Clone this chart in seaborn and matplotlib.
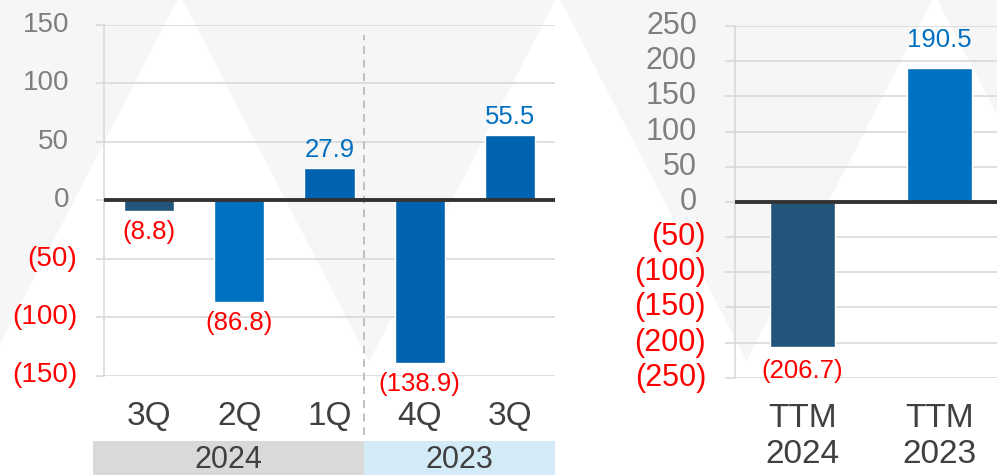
#!/usr/bin/env python3
"""Quarterly and TTM bar charts with parenthesised negatives."""

import matplotlib

matplotlib.use("Agg")
import matplotlib.pyplot as plt
import matplotlib.transforms as mtransforms
import numpy as np
import seaborn as sns
from matplotlib.patches import Polygon, Rectangle

# Data
quarter_labels = ["3Q", "2Q", "1Q", "4Q", "3Q"]
quarter_values = [-8.8, -86.8, 27.9, -138.9, 55.5]
quarter_colors = ["#23557A", "#0070C0", "#0063AF", "#0063AF", "#0063AF"]
year_groups = ["2024", "2023"]
year_spans = [(-0.62, 2.38), (2.38, 4.5)]
year_colors = ["#D9D9D9", "#D3EBF7"]

ttm_labels = ["TTM\n2024", "TTM\n2023"]
ttm_values = [-206.7, 190.5]
ttm_colors = ["#23557A", "#0070C0"]

left_ticks = [150, 100, 50, 0, -50, -100, -150]
right_ticks = [250, 200, 150, 100, 50, 0, -50, -100, -150, -200, -250]

POS = "#0070C0"
NEG = "#FF0000"
TICK_GREY = "#7F7F7F"
TEXT = "#404040"
GRID = "#D9D9D9"

sns.set_theme(style="white")
plt.rcParams["font.family"] = ["Liberation Sans", "DejaVu Sans"]

W, H = 997, 475
fig = plt.figure(figsize=(W / 100, H / 100), dpi=100)
fig.patch.set_facecolor("#F6F6F6")

# background triangles (pixel coordinates, origin top-left)
px = mtransforms.Affine2D().scale(1 / W, -1 / H).translate(0, 1) + fig.transFigure
for apex in (180, 558, 935):
    tri = Polygon([(apex, -5), (apex - 250, 480), (apex + 250, 480)], closed=True,
                  facecolor="white", edgecolor="none", transform=px, zorder=-10)
    fig.patches.append(tri)


def fmt(v):
    return f"{v:,.0f}" if v >= 0 else f"({-v:,.0f})"


def style_axis(ax, ticks, pos_off, neg_off, size, tick_len):
    ax.set_facecolor("none")
    ax.set_yticks(ticks)
    ax.set_yticklabels([])
    ax.tick_params(axis="y", length=tick_len, width=1.2, color=GRID, left=True)
    ax.grid(axis="y", color=GRID, lw=1.2, zorder=0)
    ax.set_axisbelow(True)
    for s in ("top", "right", "bottom"):
        ax.spines[s].set_visible(False)
    ax.spines["left"].set_color(GRID)
    ax.spines["left"].set_linewidth(1.2)
    tr = mtransforms.blended_transform_factory(ax.transAxes, ax.transData)
    for t in ticks:
        off = pos_off if t >= 0 else neg_off
        ax.text(off, t, fmt(t), transform=tr, ha="right", va="center",
                fontsize=size, color=TICK_GREY if t >= 0 else NEG)
    ax.axhline(0, color="#333333", lw=2.8, zorder=3)
    ax.set_xlabel("")
    ax.set_ylabel("")


def add_labels(ax, values, up, down):
    for i, v in enumerate(values):
        label = f"{v:.1f}" if v >= 0 else f"({-v:.1f})"
        ax.annotate(label, (i, v), xytext=(0, up if v >= 0 else -down),
                    textcoords="offset points", ha="center",
                    va="bottom" if v >= 0 else "top", fontsize=18.5,
                    color=POS if v >= 0 else NEG, zorder=4)


# Left chart: quarters
ax1 = fig.add_axes([104 / W, 1 - 375.5 / H, 451 / W, 350.5 / H])
sns.barplot(x=np.arange(len(quarter_values)), y=quarter_values,
            hue=np.arange(len(quarter_values)), palette=quarter_colors,
            width=0.555, saturation=1, legend=False, ax=ax1, zorder=2)
ax1.set_xlim(-0.5, 4.5)
ax1.set_ylim(-150, 150)
style_axis(ax1, left_ticks, -35 / 451, -27 / 451, 20, 6)
ax1.set_xticks(range(len(quarter_labels)))
ax1.set_xticklabels(quarter_labels, fontsize=24, color=TEXT)
ax1.tick_params(axis="x", length=0, pad=18.5)
add_labels(ax1, quarter_values, 4.3, 6.5)
ax1.axvline(2.38, ymin=-0.17, ymax=0.971, color="#BFBFBF", lw=1.4,
            ls=(0, (4, 3)), clip_on=False, zorder=1)

band_tr = mtransforms.blended_transform_factory(ax1.transData, fig.transFigure)
for name, (x0, x1), col in zip(year_groups, year_spans, year_colors):
    ax1.add_patch(Rectangle((x0, 0), x1 - x0, 34 / H, transform=band_tr,
                            facecolor=col, edgecolor="none", clip_on=False, zorder=1))
    ax1.text((x0 + x1) / 2, 7 / H, name, transform=band_tr, ha="center",
             va="baseline", fontsize=22, color=TEXT, clip_on=False)

# Right chart: TTM
ax2 = fig.add_axes([735 / W, 1 - 377.7 / H, (W - 735) / W, 351.7 / H])
sns.barplot(x=np.arange(len(ttm_values)), y=ttm_values,
            hue=np.arange(len(ttm_values)), palette=ttm_colors,
            width=0.475, saturation=1, legend=False, ax=ax2, zorder=2)
ax2.set_xlim(-0.49, 1.42)
ax2.set_ylim(-250, 250)
style_axis(ax2, right_ticks, -38 / 262, -29 / 262, 22, 7.2)
ax2.set_xticks(range(len(ttm_labels)))
ax2.set_xticklabels(ttm_labels, fontsize=24, color=TEXT, linespacing=1.22)
ax2.tick_params(axis="x", length=0, pad=18)
add_labels(ax2, ttm_values, 11.5, 8.6)

fig.savefig("out.png", dpi=100, facecolor=fig.get_facecolor())
